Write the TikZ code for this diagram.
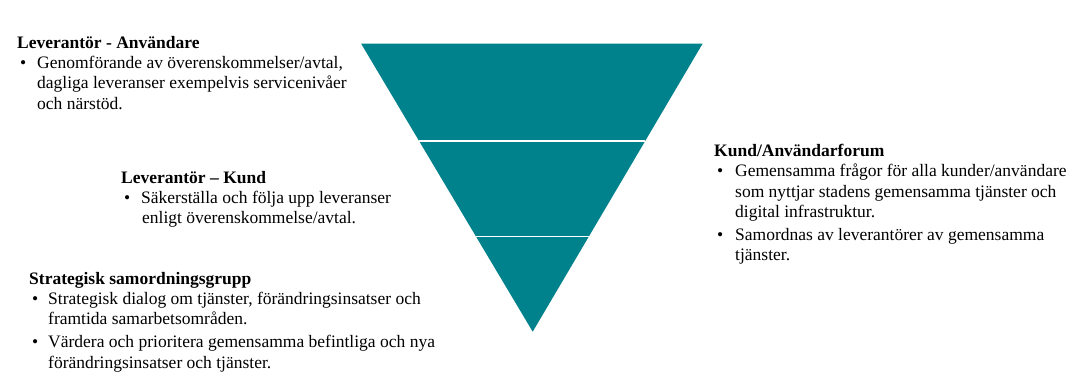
\documentclass[tikz,border=0pt]{standalone}
\usepackage{fontspec}
\setmainfont{Liberation Serif}
\usetikzlibrary{calc}
\definecolor{teal1}{RGB}{0,130,140}
\newcommand\bul[1]{\makebox[#1][l]{\hspace{3pt}•}}
\newcommand\ind[1]{\makebox[#1]{}}
\tikzset{
  txt/.style={anchor=north west, inner sep=0pt, align=left, font=\fontsize{17.5}{20.3}\selectfont},
  divider/.style={white, line width=1.2pt}
}
\begin{document}
\begin{tikzpicture}[x=1pt,y=1pt]
\useasboundingbox (0,0) rectangle (1075,376);
\coordinate (TL) at (361,332.5);
\coordinate (TR) at (702.7,332.5);
\coordinate (B) at (532.7,44.3);
\coordinate (L1) at ($(TL)!0.3383!(B)$);
\coordinate (R1) at ($(TR)!0.3383!(B)$);
\coordinate (L2) at ($(TL)!0.6704!(B)$);
\coordinate (R2) at ($(TR)!0.6704!(B)$);
\fill[teal1] (TL) -- (TR) -- (B) -- cycle;
\draw[divider] (L1) -- (R1);
\draw[divider] (L2) -- (R2);

\node[txt] (b1) at (17,340) {\textbf{Leverantör - Användare}\\
\bul{20pt}Genomförande av överenskommelser/avtal,\\
\ind{20pt}dagliga leveranser exempelvis servicenivåer\\
\ind{20pt}och närstöd.};

\node[txt] (b2) at (121,205) {\textbf{Leverantör – Kund}\\
\bul{20pt}Säkerställa och följa upp leveranser\\
\ind{21pt}enligt överenskommelse/avtal.};

\node[txt] (b3) at (29,104) {\textbf{Strategisk samordningsgrupp}\\
\bul{19pt}Strategisk dialog om tjänster, förändringsinsatser och\\
\ind{19pt}framtida samarbetsområden.\\[2.5pt]
\bul{19pt}Värdera och prioritera gemensamma befintliga och nya\\
\ind{19pt}förändringsinsatser och tjänster.};

\node[txt] (b4) at (714,232) {\textbf{Kund/Användarforum}\\
\bul{21pt}Gemensamma frågor för alla kunder/användare\\
\ind{21pt}som nyttjar stadens gemensamma tjänster och\\
\ind{21pt}digital infrastruktur.\\[2.5pt]
\bul{21pt}Samordnas av leverantörer av gemensamma\\
\ind{21pt}tjänster.};
\end{tikzpicture}
\end{document}
